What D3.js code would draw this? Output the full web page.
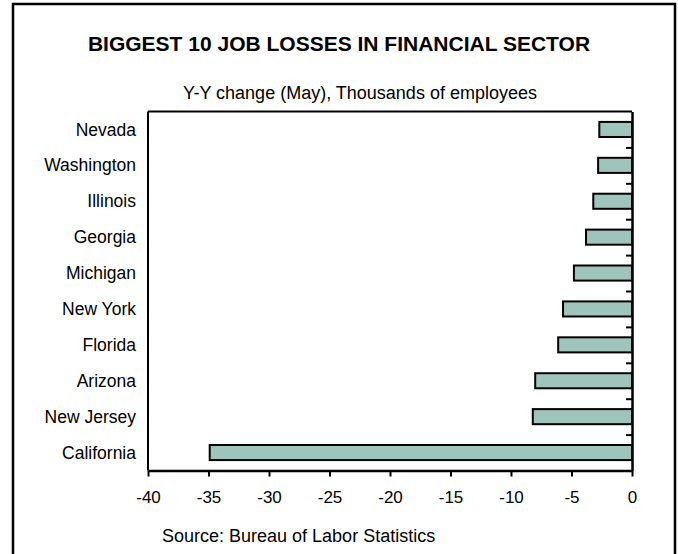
<!DOCTYPE html>
<html>
<head>
<meta charset="utf-8">
<script src="https://cdn.jsdelivr.net/npm/d3@7"></script>
<style>
  body { margin: 0; background: #fff; }
  text { font-family: "Liberation Sans", Arial, sans-serif; fill: #000; }
</style>
</head>
<body>
<div id="chart"></div>
<script>
// data
const states = ["Nevada", "Washington", "Illinois", "Georgia", "Michigan",
                "New York", "Florida", "Arizona", "New Jersey", "California"];
const changes = [-2.7, -2.8, -3.2, -3.8, -4.8, -5.7, -6.1, -8.0, -8.2, -34.9];
const xTicks = [-40, -35, -30, -25, -20, -15, -10, -5, 0];

const W = 678, H = 554;
const margin = {top: 111.5, right: 46, bottom: 83.5, left: 148};
const width = W - margin.left - margin.right;
const height = H - margin.top - margin.bottom;

const root = d3.select("#chart").append("svg")
    .attr("width", W).attr("height", H);

//outer frame
root.append("rect")
    .attr("x", 13).attr("y", 4)
    .attr("width", 662).attr("height", 560)
    .attr("fill", "none").attr("stroke", "#000").attr("stroke-width", 2.5);

root.append("text")
    .attr("x", 339).attr("y", 51)
    .attr("text-anchor", "middle")
    .style("font-size", "21px").style("font-weight", "bold")
    .text("BIGGEST 10 JOB LOSSES IN FINANCIAL SECTOR");

root.append("text")
    .attr("x", 360).attr("y", 99)
    .attr("text-anchor", "middle")
    .style("font-size", "18px")
    .text("Y-Y change (May), Thousands of employees");

root.append("text")
    .attr("x", 162).attr("y", 542)
    .style("font-size", "18px")
    .text("Source: Bureau of Labor Statistics");

const svg = root.append("g")
    .attr("transform", `translate(${margin.left},${margin.top})`);

const x = d3.scaleLinear().domain([-40, 0]).range([0, width]);
const y = d3.scaleBand().domain(states).range([0, height]).paddingInner(0.58).paddingOuter(0.29);
const yEdge = d3.scaleLinear().domain([0, states.length]).range([0, height]);

//plot frame: top and left lines
svg.append("line").attr("x1", 0).attr("x2", width).attr("y1", 0).attr("y2", 0)
    .attr("stroke", "#000").attr("stroke-width", 2);
svg.append("line").attr("x1", 0).attr("x2", 0).attr("y1", 0).attr("y2", height)
    .attr("stroke", "#000").attr("stroke-width", 2);

//bars
svg.selectAll("rect.bar")
    .data(changes)
    .enter()
    .append("rect")
        .attr("class", "bar")
        .attr("x", d => x(d))
        .attr("y", (d, i) => y(states[i]))
        .attr("width", d => x(0) - x(d))
        .attr("height", y.bandwidth())
        .attr("fill", "#9fc4bb")
        .attr("stroke", "#000")
        .attr("stroke-width", 2);

//x axis
const xAxis = svg.append("g")
    .attr("transform", `translate(0,${height})`)
    .call(d3.axisBottom(x).tickValues(xTicks).tickSize(6).tickSizeOuter(0).tickPadding(14));
xAxis.select(".domain").attr("stroke-width", 2.5);
xAxis.selectAll(".tick line").attr("stroke-width", 2);
xAxis.selectAll("text").style("font-size", "17px")
    .text(d => d < 0 ? "-" + Math.abs(d) : d);

//category axis on the right at zero, ticks between categories pointing in
const yAxis = svg.append("g")
    .attr("transform", `translate(${x(0)},0)`)
    .call(d3.axisLeft(yEdge).tickValues(d3.range(1, states.length + 1)).tickSize(6).tickSizeOuter(0).tickFormat(""));
yAxis.select(".domain").attr("stroke-width", 2.5);
yAxis.selectAll(".tick line").attr("stroke-width", 2);

//category labels on the left
svg.selectAll("text.cat")
    .data(states)
    .enter()
    .append("text")
        .attr("class", "cat")
        .attr("x", -12)
        .attr("y", d => y(d) + y.bandwidth() / 2)
        .attr("dy", "0.35em")
        .attr("text-anchor", "end")
        .style("font-size", "17.5px")
        .text(d => d);
</script>
</body>
</html>
